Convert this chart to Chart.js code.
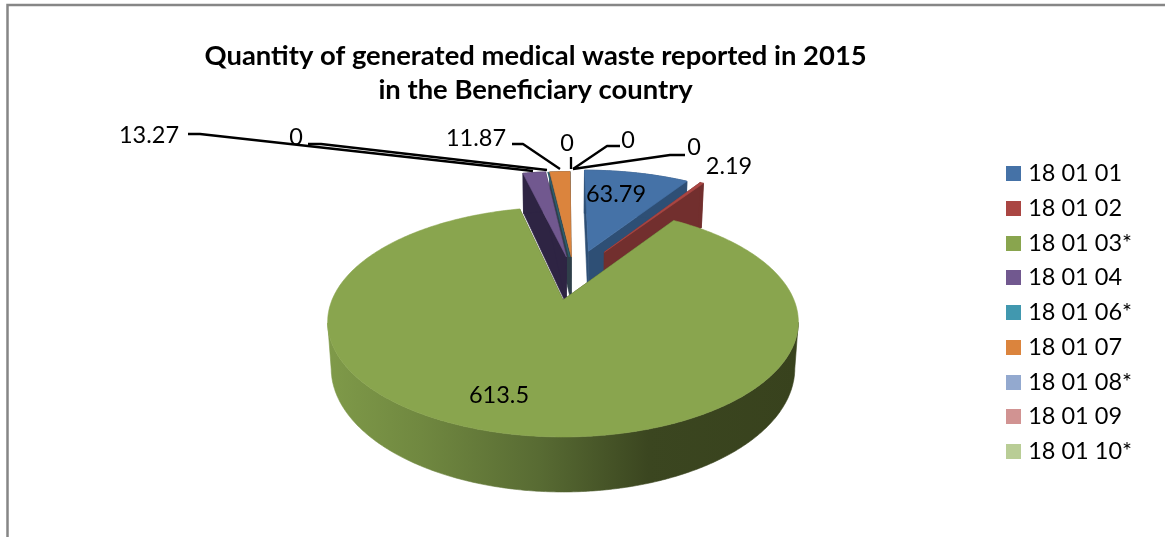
<!DOCTYPE html>
<html>
<head>
<meta charset="utf-8">
<script src="https://cdn.jsdelivr.net/npm/chart.js@4"></script>
<style>html,body{margin:0;padding:0;background:#fff;overflow:hidden}canvas{display:block}</style>
</head>
<body>
<canvas id="c" width="1165" height="537"></canvas>
<script>
const categories = ['18 01 01','18 01 02','18 01 03*','18 01 04','18 01 06*','18 01 07','18 01 08*','18 01 09','18 01 10*'];
const values = [63.79, 2.19, 613.5, 13.27, 0, 11.87, 0, 0, 0];
const valueLabels = ['63.79','2.19','613.5','13.27','0','11.87','0','0','0'];
const titleLines = ['Quantity of generated medical waste reported in 2015','in the Beneficiary country'];

const topColors = ['#4572A7','#AA4643','#89A54E','#71588F','#4198AF','#DB843D','#93A9CF','#D19392','#B9CD96'];
const wallColors = ['#2E4F75','#722F2E','#3A441E','#2E2443','#2C5F6E','#2F3F4A','#5F7090','#8A5F5E','#7A8A60'];

/* view of the tilted disc, and how far each slice is pulled out of it */
const view = {cx:563, cy:300, a:231, b:110.8, p:0.191, d:44.5, under:0.985};
const explodeX = [0.12, 0.195, 0, 0.016, 0.03, 0.039, 0.039, 0.039, 0.039];
const explodeY = [0.48, 0.47, 0, 0.42, 0.42, 0.42, 0.5, 0.5, 0.5];
const sliceReach = [1.03, 1.02, 1, 1.07, 1.07, 1.07, 1, 1, 1];
const sliceDepth = [1.25, 1.25, 1, 1.15, 1, 1.1, 1, 1, 1];
const paintOrder = [5, 4, 3, 0, 1, 6, 7, 8, 2];

/* text placement and leader elbows (canvas pixels) */
const labelBoxes = [
  {x:616, y:194}, {x:729, y:166}, {x:499, y:395},
  {x:149, y:135, line:[[188,134],[200,134],[533,171]]},
  {x:296, y:137, line:[[308,144],[321,144],[547,170]]},
  {x:476, y:138, line:[[512,144],[523,144],[560,169]]},
  {x:567, y:143, line:[[571,157],[571,169]]},
  {x:628, y:140, line:[[620,146],[607,146],[573,169]]},
  {x:694, y:147, line:[[685,155],[670,155],[573,169]]}
];
const FONT = 'Lato, Carlito, sans-serif';

function project(wx, wy, low, depth) {
  const w = 1 / (1 + view.p * wy);
  if (low) return [view.cx + view.a * wx * w * view.under, view.cy - view.b * wy * w + view.d * depth * w];
  return [view.cx + view.a * wx * w, view.cy - view.b * wy * w];
}
function arcPoints(i, a0, a1, low, frontOnly) {
  const steps = Math.max(2, Math.ceil(Math.abs(a1 - a0) / 0.01));
  const pts = [];
  for (let k = 0; k <= steps; k++) {
    const t = a0 + (a1 - a0) * k / steps + Math.PI / 2;
    if (frontOnly && Math.cos(t) > -view.p) continue;
    pts.push(project(explodeX[i] + sliceReach[i] * Math.sin(t), explodeY[i] + sliceReach[i] * Math.cos(t), low, sliceDepth[i]));
  }
  return pts;
}
function poly(ctx, pts, fill) {
  ctx.beginPath();
  pts.forEach((p, k) => k ? ctx.lineTo(p[0], p[1]) : ctx.moveTo(p[0], p[1]));
  ctx.closePath();
  ctx.fillStyle = fill; ctx.strokeStyle = fill; ctx.lineWidth = 0.6;
  ctx.fill(); ctx.stroke();
}
function swatch(color) {
  const s = document.createElement('canvas');
  s.width = 15; s.height = 15;
  const g = s.getContext('2d');
  g.fillStyle = color; g.fillRect(0, 0, 15, 15);
  return s;
}
const disc3d = {
  id: 'disc3d',
  beforeDraw(chart) {
    const ctx = chart.ctx;
    ctx.save();
    ctx.strokeStyle = '#868686'; ctx.lineWidth = 2.5;
    ctx.strokeRect(7.5, 5, 1300, 700);
    ctx.restore();
  },
  beforeDatasetsDraw(chart) {
    const ctx = chart.ctx;
    const arcs = chart.getDatasetMeta(0).data;
    const sideGrad = ctx.createLinearGradient(view.cx - view.a - 5, 0, view.cx + view.a + 5, 0);
    sideGrad.addColorStop(0, '#7F9A49');
    sideGrad.addColorStop(0.2, '#708840');
    sideGrad.addColorStop(0.45, '#586B33');
    sideGrad.addColorStop(0.68, '#3B4620');
    sideGrad.addColorStop(1, '#38421D');
    ctx.save();
    paintOrder.forEach(i => {
      const arc = arcs[i];
      const a0 = arc.startAngle, a1 = arc.endAngle;
      const apexTop = project(explodeX[i], explodeY[i], false, sliceDepth[i]);
      const apexLow = project(explodeX[i], explodeY[i], true, sliceDepth[i]);
      const topEdge = arcPoints(i, a0, a1, false);
      if (values[i] === 0) {
        if (i === 4) {
          ctx.strokeStyle = '#2C5F6E'; ctx.lineWidth = 1.5;
          ctx.beginPath(); ctx.moveTo(apexTop[0], apexTop[1]); ctx.lineTo(topEdge[0][0], topEdge[0][1]); ctx.stroke();
        }
        return;
      }
      const lowEdge = arcPoints(i, a0, a1, true);
      const wall = wallColors[i];
      const n = topEdge.length - 1;
      poly(ctx, [apexTop, topEdge[0], lowEdge[0], apexLow], wall);
      poly(ctx, [apexTop, topEdge[n], lowEdge[n], apexLow], wall);
      if (i === 2) {
        const frontTop = arcPoints(i, a0, a1, false, true);
        const frontLow = arcPoints(i, a0, a1, true, true);
        poly(ctx, [...frontTop, ...frontLow.reverse()], sideGrad);
      } else {
        poly(ctx, [...topEdge, ...lowEdge.slice().reverse()], wall);
      }
      poly(ctx, [apexTop, ...topEdge], topColors[i]);
    });
    ctx.restore();
    /* the library's flat pie is replaced by the tilted drawing above */
  },
  beforeDatasetDraw() { return false; },
  afterDatasetsDraw(chart) {
    const ctx = chart.ctx;
    ctx.save();
    labelBoxes.forEach(b => {
      if (!b.line) return;
      ctx.strokeStyle = '#000'; ctx.lineWidth = 2.3; ctx.lineJoin = 'round';
      ctx.beginPath();
      b.line.forEach((p, k) => k ? ctx.lineTo(p[0], p[1]) : ctx.moveTo(p[0], p[1]));
      ctx.stroke();
    });
    ctx.fillStyle = '#000';
    ctx.font = '23.5px ' + FONT;
    ctx.textAlign = 'center'; ctx.textBaseline = 'middle';
    labelBoxes.forEach((b, i) => ctx.fillText(valueLabels[i], b.x, b.y));
    ctx.restore();
  }
};

new Chart(document.getElementById('c'), {
  type: 'pie',
  data: { labels: categories, datasets: [{ data: values, backgroundColor: topColors, borderWidth: 0 }] },
  plugins: [disc3d],
  options: {
    responsive: false,
    animation: false,
    layout: { padding: { left: 71, right: 23, top: 0, bottom: 62.5 } },
    plugins: {
      tooltip: { enabled: false },
      title: {
        display: true, fullSize: false, text: titleLines, color: '#000',
        font: { family: FONT, size: 27.4, weight: 'bold', lineHeight: 1.25 },
        padding: { top: 39, bottom: 0 }
      },
      legend: {
        position: 'right',
        align: 'end',
        labels: {
          usePointStyle: true, pointStyleWidth: 5, boxHeight: 15,
          padding: 11.25, color: '#000', font: { family: FONT, size: 23.5 },
          generateLabels(chart) {
            const items = Chart.overrides.pie.plugins.legend.labels.generateLabels(chart);
            items.forEach((it, i) => { it.pointStyle = swatch(topColors[i]); });
            return items;
          }
        }
      }
    }
  }
});
</script>
</body>
</html>
